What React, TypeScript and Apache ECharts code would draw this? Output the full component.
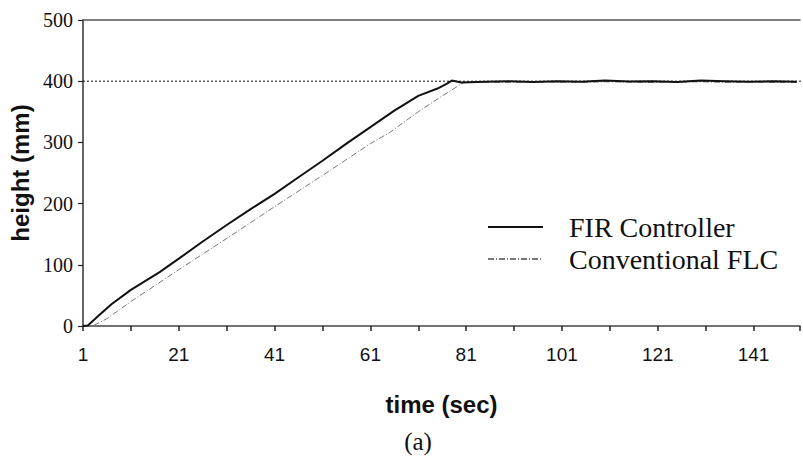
import React, { useEffect, useRef } from 'react';
import * as echarts from 'echarts';

// time (sec) and height (mm)
const firTime = [1, 2, 4, 7, 11, 17, 21, 26, 31, 36, 41, 46, 51, 56, 61, 66, 71, 75, 77, 78, 80, 85, 90, 95, 100, 105, 110, 115, 120, 125, 130, 135, 140, 145, 150];
const firHeight = [0, 1, 15, 36, 59, 88, 110, 138, 165, 191, 216, 243, 270, 298, 325, 352, 376, 388, 396, 401, 398, 399, 400, 398.5, 400, 399, 401, 399.5, 400, 398.5, 401, 400, 399, 400, 399];

const flcTime = [1, 3, 6, 11, 21, 31, 41, 51, 61, 65, 71, 76, 80.5, 85, 90, 95, 100, 105, 110, 115, 120, 125, 130, 135, 140, 145, 150];
const flcHeight = [0, 0, 12, 40, 92, 143, 195, 246, 298, 316, 350, 376, 398, 398.5, 398, 399, 398.5, 398, 399, 398.5, 398, 398.5, 399, 398, 398.5, 398, 398];

const setpointTime = [1, 151];
const setpointHeight = [400, 400];

const xStart = 1;
const xEnd = 150.7;
const yTicks = [0, 100, 200, 300, 400, 500];

const seriesNames = ['FIR Controller', 'Conventional FLC'];

const toPairs = (t: number[], h: number[]) => t.map((v, i) => [v - xStart, h[i]]);

export default function App() {
  const ref = useRef<HTMLDivElement>(null);
  useEffect(() => {
    if (!ref.current) return;
    const chart = echarts.init(ref.current, undefined, { renderer: 'svg' });
    chart.setOption({
      animation: false,
      backgroundColor: '#ffffff',
      grid: { left: 83, right: 0, top: 20, bottom: 132, containLabel: false },
      legend: {
        data: seriesNames,
        orient: 'vertical',
        left: 482,
        top: 206,
        itemWidth: 55,
        itemHeight: 10,
        itemGap: 0,
        itemStyle: { opacity: 0 },
        textStyle: {
          fontFamily: 'Liberation Serif',
          fontSize: 28,
          lineHeight: 32,
          color: '#111',
          padding: [0, 0, 0, 21],
        },
      },
      xAxis: [
        {
          type: 'value',
          min: 0,
          max: xEnd - xStart,
          interval: 10,
          name: 'time (sec)',
          nameLocation: 'middle',
          nameGap: 66,
          nameTextStyle: { fontFamily: 'Liberation Sans', fontWeight: 'bold', fontSize: 24, color: '#111' },
          axisLine: { show: true, lineStyle: { color: '#444', width: 1.5 } },
          axisTick: { show: true, length: 5, lineStyle: { color: '#222', width: 1.5 } },
          axisLabel: {
            margin: 19,
            fontFamily: 'Liberation Sans',
            fontSize: 19,
            color: '#111',
            formatter: (v: number) => (Math.abs(v % 20) < 1e-6 ? String(Math.round(v) + xStart) : ''),
          },
          splitLine: { show: false },
        },
        {
          type: 'value',
          position: 'top',
          min: 0,
          max: xEnd - xStart,
          axisLine: { show: true, onZero: false, lineStyle: { color: '#555', width: 1.5 } },
          axisTick: { show: false },
          axisLabel: { show: false },
          splitLine: { show: false },
        },
      ],
      yAxis: {
        type: 'value',
        min: yTicks[0],
        max: yTicks[yTicks.length - 1],
        interval: 100,
        name: 'height (mm)',
        nameLocation: 'middle',
        nameGap: 50,
        nameTextStyle: { fontFamily: 'Liberation Sans', fontWeight: 'bold', fontSize: 24, color: '#111' },
        axisLine: { show: true, lineStyle: { color: '#333', width: 1.5 } },
        axisTick: { show: true, length: 5, lineStyle: { color: '#222', width: 1.2 } },
        axisLabel: { margin: 10, fontFamily: 'Liberation Serif', fontSize: 20, color: '#111' },
        splitLine: { show: false },
      },
      series: [
        {
          name: 'setpoint',
          type: 'line',
          data: toPairs(setpointTime, setpointHeight),
          symbol: 'none',
          silent: true,
          z: 1,
          lineStyle: { color: '#111', width: 1, type: [2, 2] },
        },
        {
          name: seriesNames[0],
          type: 'line',
          data: toPairs(firTime, firHeight),
          symbol: 'none',
          z: 3,
          lineStyle: { color: '#111', width: 2 },
          itemStyle: { color: '#111' },
        },
        {
          name: seriesNames[1],
          type: 'line',
          data: toPairs(flcTime, flcHeight),
          symbol: 'none',
          z: 2,
          lineStyle: { color: '#777', width: 1, type: [6, 2, 1, 2] },
          itemStyle: { color: '#777' },
        },
      ],
      graphic: [
        {
          type: 'text',
          x: 418,
          y: 441,
          style: {
            text: '(a)',
            fontFamily: 'Liberation Serif',
            fontSize: 25,
            fill: '#111',
            align: 'center',
            verticalAlign: 'middle',
          },
        },
      ],
    });
    return () => chart.dispose();
  }, []);
  return <div ref={ref} style={{ position: 'fixed', left: 0, top: 0, width: 803, height: 458 }} />;
}
